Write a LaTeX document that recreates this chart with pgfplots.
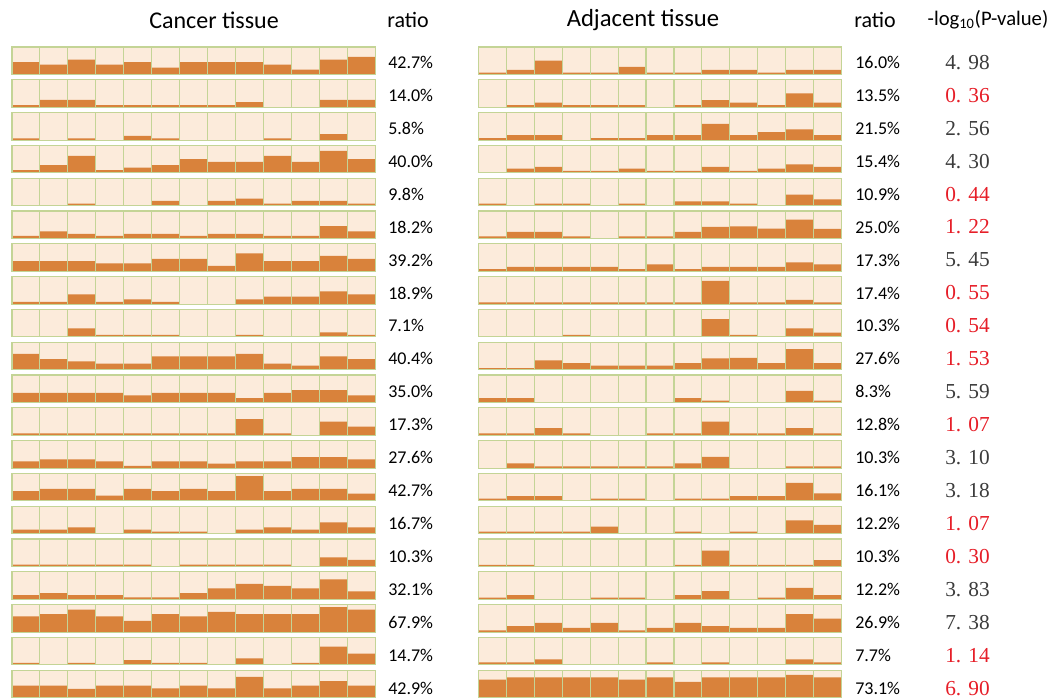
\documentclass[border=0pt]{standalone}
\usepackage{pgfplots}
\pgfplotsset{compat=1.18}
\usepgfplotslibrary{groupplots}
\usepackage{fontspec}
\setmainfont{Carlito}
\newfontfamily\pfont{Liberation Serif}
\definecolor{peach}{RGB}{252,235,219}
\definecolor{barc}{RGB}{217,130,59}
\definecolor{cellline}{RGB}{196,212,150}
\definecolor{pred}{RGB}{230,30,40}
\definecolor{pgray}{RGB}{60,60,60}

\begin{document}
\begin{tikzpicture}
\begin{groupplot}[
  group style={group size=2 by 20, horizontal sep=77.25pt, vertical sep=4pt},
  scale only axis, width=272.5pt, height=20.6pt,
  xmin=0.5, xmax=13.5, ymin=0, ymax=1, enlargelimits=false,
  ybar, /pgf/bar width=1,
  xtick={1.5,2.5,...,12.5}, xticklabels={}, ytick=\empty,
  xmajorgrids, major grid style={cellline, line width=0.8pt},
  major tick length=0pt,
  axis line style={cellline, line width=0.8pt},
  axis background/.style={fill=peach},
  axis on top,
  every axis plot post/.append style={fill=barc, draw=none}]
% row 1
\nextgroupplot \addplot coordinates {(1,.45)(2,.36)(3,.54)(4,.36)(5,.45)(6,.25)(7,.45)(8,.45)(9,.45)(10,.36)(11,.18)(12,.54)(13,.64)};
\nextgroupplot \addplot coordinates {(1,.07)(2,.17)(3,.50)(4,.07)(5,.07)(6,.28)(7,.07)(8,.07)(9,.17)(10,.17)(11,.07)(12,.17)(13,.17)};
% row 2
\nextgroupplot \addplot coordinates {(1,.08)(2,.27)(3,.27)(4,.08)(5,.08)(6,.08)(7,.08)(8,.08)(9,.19)(10,0)(11,0)(12,.27)(13,.27)};
\nextgroupplot \addplot coordinates {(1,0)(2,.08)(3,.17)(4,.08)(5,.08)(6,.08)(7,0)(8,.08)(9,.26)(10,.17)(11,.08)(12,.51)(13,.17)};
% row 3
\nextgroupplot \addplot coordinates {(1,.06)(2,0)(3,.06)(4,0)(5,.15)(6,.06)(7,0)(8,0)(9,0)(10,.06)(11,0)(12,.22)(13,0)};
\nextgroupplot \addplot coordinates {(1,.07)(2,.18)(3,.18)(4,0)(5,.07)(6,.07)(7,.18)(8,.18)(9,.59)(10,.18)(11,.29)(12,.39)(13,.18)};
% row 4
\nextgroupplot \addplot coordinates {(1,.10)(2,.28)(3,.62)(4,.10)(5,.19)(6,.28)(7,.50)(8,.40)(9,.40)(10,.62)(11,.40)(12,.80)(13,.50)};
\nextgroupplot \addplot coordinates {(1,0)(2,.15)(3,.22)(4,.07)(5,.07)(6,.15)(7,.07)(8,.07)(9,.22)(10,.07)(11,.15)(12,.31)(13,.22)};
% row 5
\nextgroupplot \addplot coordinates {(1,0)(2,0)(3,.07)(4,0)(5,0)(6,.17)(7,0)(8,.17)(9,.26)(10,.07)(11,.17)(12,.17)(13,.07)};
\nextgroupplot \addplot coordinates {(1,.07)(2,0)(3,.07)(4,.07)(5,0)(6,.07)(7,0)(8,.16)(9,.16)(10,.07)(11,0)(12,.40)(13,.23)};
% row 6
\nextgroupplot \addplot coordinates {(1,.09)(2,.26)(3,.17)(4,.09)(5,.17)(6,.17)(7,.09)(8,.17)(9,.17)(10,.09)(11,.09)(12,.45)(13,.26)};
\nextgroupplot \addplot coordinates {(1,.08)(2,.24)(3,.24)(4,.08)(5,0)(6,.08)(7,.08)(8,.24)(9,.42)(10,.44)(11,.36)(12,.69)(13,.35)};
% row 7
\nextgroupplot \addplot coordinates {(1,.37)(2,.37)(3,.37)(4,.29)(5,.29)(6,.45)(7,.45)(8,.20)(9,.65)(10,.37)(11,.37)(12,.56)(13,.45)};
\nextgroupplot \addplot coordinates {(1,.08)(2,.16)(3,.16)(4,.16)(5,.16)(6,.08)(7,.25)(8,.08)(9,.16)(10,.16)(11,.16)(12,.32)(13,.25)};
% row 8
\nextgroupplot \addplot coordinates {(1,.08)(2,.08)(3,.35)(4,.08)(5,.17)(6,.08)(7,0)(8,0)(9,.17)(10,.27)(11,.27)(12,.46)(13,.35)};
\nextgroupplot \addplot coordinates {(1,.06)(2,.06)(3,.06)(4,.06)(5,.06)(6,.06)(7,.06)(8,.06)(9,.84)(10,.06)(11,.06)(12,.15)(13,.06)};
% row 9
\nextgroupplot \addplot coordinates {(1,0)(2,0)(3,.31)(4,.07)(5,.07)(6,.07)(7,0)(8,0)(9,.07)(10,0)(11,0)(12,.16)(13,.07)};
\nextgroupplot \addplot coordinates {(1,0)(2,0)(3,0)(4,.07)(5,0)(6,0)(7,0)(8,0)(9,.65)(10,.07)(11,0)(12,.31)(13,.15)};
% row 10
\nextgroupplot \addplot coordinates {(1,.57)(2,.38)(3,.30)(4,.22)(5,.22)(6,.48)(7,.48)(8,.48)(9,.57)(10,.22)(11,.15)(12,.48)(13,.38)};
\nextgroupplot \addplot coordinates {(1,.06)(2,.06)(3,.34)(4,.24)(5,.15)(6,.15)(7,.15)(8,.24)(9,.41)(10,.43)(11,.24)(12,.75)(13,.24)};
% row 11
\nextgroupplot \addplot coordinates {(1,.35)(2,.35)(3,.35)(4,.35)(5,.26)(6,.35)(7,.35)(8,.35)(9,.16)(10,.35)(11,.45)(12,.45)(13,.26)};
\nextgroupplot \addplot coordinates {(1,.16)(2,.16)(3,0)(4,0)(5,0)(6,0)(7,0)(8,.16)(9,.07)(10,0)(11,0)(12,.42)(13,.07)};
% row 12
\nextgroupplot \addplot coordinates {(1,.07)(2,.07)(3,.07)(4,.07)(5,.07)(6,.07)(7,.07)(8,.07)(9,.59)(10,.07)(11,0)(12,.50)(13,.31)};
\nextgroupplot \addplot coordinates {(1,.07)(2,.07)(3,.26)(4,.07)(5,0)(6,0)(7,.07)(8,.07)(9,.50)(10,.07)(11,.07)(12,.26)(13,.07)};
% row 13
\nextgroupplot \addplot coordinates {(1,.24)(2,.32)(3,.32)(4,.24)(5,.08)(6,.24)(7,.24)(8,.16)(9,.24)(10,.24)(11,.40)(12,.40)(13,.32)};
\nextgroupplot \addplot coordinates {(1,0)(2,.17)(3,.06)(4,.06)(5,.06)(6,.06)(7,.06)(8,.17)(9,.41)(10,0)(11,0)(12,.06)(13,.06)};
% row 14
\nextgroupplot \addplot coordinates {(1,.35)(2,.44)(3,.44)(4,.19)(5,.44)(6,.35)(7,.44)(8,.35)(9,.90)(10,.35)(11,.44)(12,.44)(13,.26)};
\nextgroupplot \addplot coordinates {(1,.08)(2,.17)(3,.17)(4,0)(5,.08)(6,.08)(7,0)(8,.08)(9,.08)(10,.17)(11,.17)(12,.65)(13,.27)};
% row 15
\nextgroupplot \addplot coordinates {(1,.15)(2,.15)(3,.23)(4,0)(5,.15)(6,.07)(7,.07)(8,0)(9,.15)(10,.23)(11,.15)(12,.41)(13,.23)};
\nextgroupplot \addplot coordinates {(1,.07)(2,.07)(3,.07)(4,.07)(5,.26)(6,0)(7,0)(8,.07)(9,0)(10,.07)(11,0)(12,.48)(13,.32)};
% row 16
\nextgroupplot \addplot coordinates {(1,.07)(2,.07)(3,.07)(4,.07)(5,.07)(6,0)(7,.07)(8,.07)(9,.07)(10,.07)(11,0)(12,.33)(13,.24)};
\nextgroupplot \addplot coordinates {(1,.06)(2,.06)(3,0)(4,0)(5,0)(6,0)(7,0)(8,.06)(9,.58)(10,.06)(11,.06)(12,.06)(13,.23)};
% row 17
\nextgroupplot \addplot coordinates {(1,.15)(2,.22)(3,.15)(4,.15)(5,.07)(6,.07)(7,.22)(8,.40)(9,.56)(10,.49)(11,.40)(12,.72)(13,.29)};
\nextgroupplot \addplot coordinates {(1,.06)(2,.15)(3,0)(4,0)(5,.06)(6,.06)(7,0)(8,.15)(9,.30)(10,0)(11,.06)(12,.41)(13,.15)};
% row 18
\nextgroupplot \addplot coordinates {(1,.57)(2,.65)(3,.82)(4,.57)(5,.41)(6,.65)(7,.57)(8,.73)(9,.65)(10,.65)(11,.65)(12,.91)(13,.82)};
\nextgroupplot \addplot coordinates {(1,.06)(2,.22)(3,.33)(4,.15)(5,.33)(6,.06)(7,.15)(8,.33)(9,.22)(10,.15)(11,.15)(12,.65)(13,.49)};
% row 19
\nextgroupplot \addplot coordinates {(1,.07)(2,0)(3,.07)(4,0)(5,.17)(6,.07)(7,.07)(8,0)(9,.24)(10,0)(11,.07)(12,.66)(13,.41)};
\nextgroupplot \addplot coordinates {(1,.09)(2,.09)(3,.20)(4,0)(5,0)(6,0)(7,.09)(8,0)(9,.09)(10,0)(11,0)(12,.20)(13,.09)};
% row 20
\nextgroupplot \addplot coordinates {(1,.44)(2,.44)(3,.32)(4,.44)(5,.44)(6,.34)(7,.44)(8,.34)(9,.76)(10,.34)(11,.44)(12,.60)(13,.44)};
\nextgroupplot \addplot coordinates {(1,.66)(2,.74)(3,.74)(4,.74)(5,.74)(6,.66)(7,.74)(8,.57)(9,.74)(10,.74)(11,.74)(12,.83)(13,.74)};
\end{groupplot}

% text in image pixel units, origin at the top left of the picture
\begin{scope}[shift={(group c1r1.north west)}, x=0.75pt, y=-0.75pt, shift={(-12,-47)}]
  \node[font=\fontsize{18}{20}\selectfont] at (214,20) {Cancer tissue};
  \node[font=\fontsize{16.5}{18}\selectfont] at (408,20) {ratio};
  \node[font=\fontsize{18.5}{20}\selectfont] at (643,20) {Adjacent tissue};
  \node[font=\fontsize{16.5}{18}\selectfont] at (875,20) {ratio};
  \node[font=\fontsize{15.5}{18}\selectfont] at (988,20) {-log\textsubscript{10}(P-value)};
  \foreach \a/\b/\p/\c [count=\i] in {
    42.7/16.0/4. 98/pgray, 14.0/13.5/0. 36/pred, 5.8/21.5/2. 56/pgray,
    40.0/15.4/4. 30/pgray, 9.8/10.9/0. 44/pred, 18.2/25.0/1. 22/pred,
    39.2/17.3/5. 45/pgray, 18.9/17.4/0. 55/pred, 7.1/10.3/0. 54/pred,
    40.4/27.6/1. 53/pred, 35.0/8.3/5. 59/pgray, 17.3/12.8/1. 07/pred,
    27.6/10.3/3. 10/pgray, 42.7/16.1/3. 18/pgray, 16.7/12.2/1. 07/pred,
    10.3/10.3/0. 30/pred, 32.1/12.2/3. 83/pgray, 67.9/26.9/7. 38/pgray,
    14.7/7.7/1. 14/pred, 42.9/73.1/6. 90/pred} {
    \pgfmathsetmacro\yy{62.3+(\i-1)*32.95}
    \node[anchor=west, inner sep=0pt, font=\fontsize{13.5}{15}\selectfont] at (388,\yy) {\a\%};
    \node[anchor=west, inner sep=0pt, font=\fontsize{13.5}{15}\selectfont] at (855,\yy) {\b\%};
    \node[anchor=west, inner sep=0pt, text=\c, font=\pfont\fontsize{16}{18}\selectfont] at (945,\yy) {\p};
  }
  \pgfresetboundingbox
  \path[use as bounding box] (0,0) rectangle (1051,698);
\end{scope}
\end{tikzpicture}
\end{document}
